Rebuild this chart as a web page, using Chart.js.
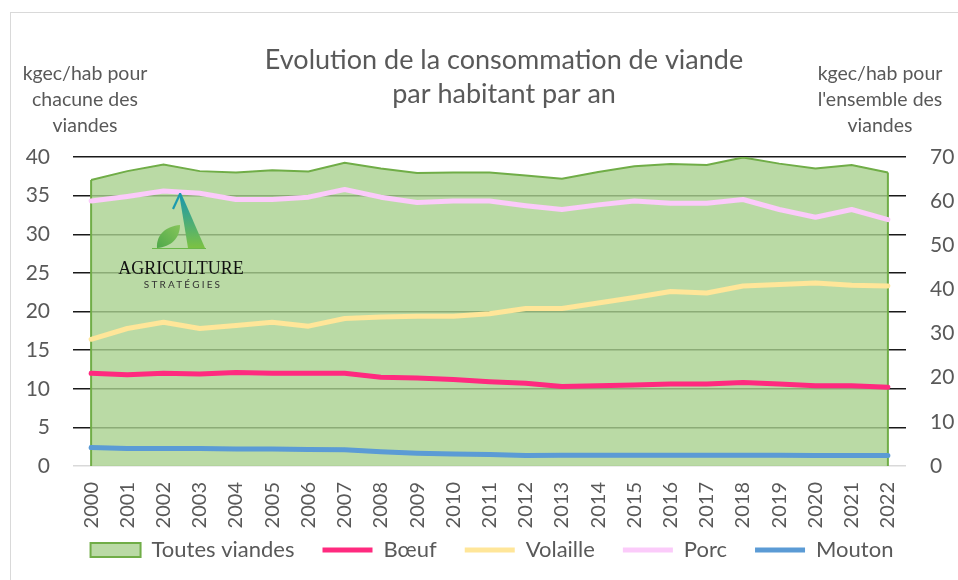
<!DOCTYPE html>
<html>
<head>
<meta charset="utf-8">
<script src="https://cdn.jsdelivr.net/npm/chart.js@4.4.1/dist/chart.umd.min.js"></script>
<style>
  html, body { margin: 0; padding: 0; background: #fff; }
  #wrap { position: relative; width: 958px; height: 580px; overflow: hidden; font-family: Lato, sans-serif; }
  #frame { position: absolute; left: 10px; top: 12px; width: 1200px; height: 1200px; border: 1px solid #d9d9d9; }
  #chart { position: absolute; left: 0; top: 0; }
  .axis-title { position: absolute; top: 60px; width: 170px; text-align: center; font-size: 19.5px; line-height: 26px; color: #595959; }
  #logo { position: absolute; left: 101px; top: 185px; width: 160px; height: 110px; }
  #logo svg { position: absolute; left: 39px; top: 0; }
  #logo .name { position: absolute; left: 0; top: 74px; width: 160px; text-align: center; font-family: "Liberation Serif", serif; font-size: 18px; line-height: 18px; color: #111; }
  #logo .sub { position: absolute; left: 2px; top: 94px; width: 160px; text-align: center; font-family: Lato, sans-serif; font-size: 10px; line-height: 10px; letter-spacing: 2.2px; color: #333; }
</style>
</head>
<body>
<div id="wrap">
  <div id="frame"></div>
  <canvas id="chart" width="958" height="580"></canvas>
  <div class="axis-title" style="left:0px">kgec/hab pour<br>chacune des<br>viandes</div>
  <div class="axis-title" style="left:795px">kgec/hab pour<br>l'ensemble des<br>viandes</div>
  <div id="logo">
    <svg width="80" height="66" viewBox="0 0 80 66">
      <defs>
        <linearGradient id="gA" x1="0" y1="0" x2="0" y2="1">
          <stop offset="0" stop-color="#1595b2"/>
          <stop offset="1" stop-color="#7cc243"/>
        </linearGradient>
        <linearGradient id="gL" x1="0" y1="1" x2="1" y2="0">
          <stop offset="0" stop-color="#4fa84a"/>
          <stop offset="1" stop-color="#86c55a"/>
        </linearGradient>
      </defs>
      <polygon points="39,8 41,8 65,63 48,63" fill="url(#gA)"/>
      <line x1="40" y1="9" x2="33" y2="24" stroke="#1a9aae" stroke-width="2.2"/>
      <line x1="12" y1="63.5" x2="66" y2="63.5" stroke="#6cb84a" stroke-width="1.2"/>
      <path d="M17,63 C16,50 26,41 40,40 C40,53 31,62 17,63 Z" fill="url(#gL)"/>
    </svg>
    <div class="name">AGRICULTURE</div>
    <div class="sub">STRATÉGIES</div>
  </div>
</div>
<script>
const years = ['2000', '2001', '2002', '2003', '2004', '2005', '2006', '2007', '2008', '2009', '2010', '2011',
  '2012', '2013', '2014', '2015', '2016', '2017', '2018', '2019', '2020', '2021', '2022'];

// right axis (all meats)
const toutesViandes = [64.8, 66.8, 68.3, 66.8, 66.5, 67.0, 66.7, 68.7, 67.4, 66.4, 66.5, 66.5,
  65.8, 65.1, 66.6, 67.9, 68.4, 68.2, 69.9, 68.5, 67.4, 68.2, 66.5];

// left axis (each meat)
const boeuf = [12.0, 11.8, 12.0, 11.9, 12.1, 12.0, 12.0, 12.0, 11.5, 11.4, 11.2, 10.9,
  10.7, 10.3, 10.4, 10.5, 10.6, 10.6, 10.8, 10.6, 10.4, 10.4, 10.2];
const volaille = [16.4, 17.8, 18.6, 17.8, 18.2, 18.6, 18.1, 19.1, 19.3, 19.4, 19.4, 19.7,
  20.4, 20.4, 21.1, 21.8, 22.6, 22.4, 23.3, 23.5, 23.7, 23.4, 23.3];
const porc = [34.3, 34.9, 35.6, 35.3, 34.5, 34.5, 34.8, 35.8, 34.8, 34.1, 34.3, 34.3,
  33.7, 33.2, 33.8, 34.3, 34.0, 34.0, 34.5, 33.2, 32.2, 33.2, 31.9];
const mouton = [2.4, 2.25, 2.25, 2.25, 2.2, 2.2, 2.15, 2.1, 1.85, 1.65, 1.55, 1.5,
  1.35, 1.4, 1.4, 1.4, 1.4, 1.4, 1.4, 1.4, 1.35, 1.35, 1.35];

const leftTicks = { min: 0, max: 40, step: 5 };
const rightTicks = { min: 0, max: 70, step: 10 };

Chart.defaults.font.family = 'Lato, sans-serif';
Chart.defaults.color = '#595959';

// excel draws the side edges of the area too
const areaEdges = {
  id: 'areaEdges',
  afterDatasetDraw(chart, args) {
    if (args.index !== 0) return;
    const pts = args.meta.data;
    const bottom = chart.scales.y1.getPixelForValue(0);
    const ctx = chart.ctx;
    ctx.save();
    ctx.strokeStyle = '#70AD47';
    ctx.lineWidth = 2;
    [pts[0], pts[pts.length - 1]].forEach(p => {
      ctx.beginPath();
      ctx.moveTo(p.x, p.y);
      ctx.lineTo(p.x, bottom);
      ctx.stroke();
    });
    ctx.restore();
  }
};

// title sits a bit right of centre in the original, legend a bit higher
const nudge = {
  id: 'nudge',
  afterLayout(chart) {
    chart.titleBlock.left = 50;
    chart.legend.left += 6;
    chart.legend.top -= 17;
    chart.legend.bottom -= 17;
  }
};

function lineSet(label, data, color) {
  return {
    label: label,
    data: data,
    yAxisID: 'y',
    borderColor: color,
    backgroundColor: color,
    borderWidth: 5,
    borderCapStyle: 'round',
    borderJoinStyle: 'round',
    pointRadius: 0,
    pointHoverRadius: 0,
    pointStyle: 'line',
    fill: false,
    tension: 0,
    order: 0
  };
}

new Chart(document.getElementById('chart'), {
  type: 'line',
  data: {
    labels: years,
    datasets: [
      {
        label: 'Toutes viandes',
        data: toutesViandes,
        yAxisID: 'y1',
        fill: 'origin',
        backgroundColor: 'rgba(169,209,142,0.8)',
        borderColor: '#70AD47',
        borderWidth: 2,
        pointRadius: 0,
        pointHoverRadius: 0,
        pointStyle: 'rect',
        tension: 0,
        order: 1
      },
      lineSet('Bœuf', boeuf, '#FF2A7F'),
      lineSet('Volaille', volaille, '#FFE699'),
      lineSet('Porc', porc, '#FBCBFA'),
      lineSet('Mouton', mouton, '#5B9BD5')
    ]
  },
  options: {
    responsive: false,
    animation: false,
    layout: { padding: { left: 20, right: 0, top: 0, bottom: -8 } },
    plugins: {
      title: {
        display: true,
        text: ['Evolution de la consommation de viande', 'par habitant par an'],
        color: '#595959',
        font: { size: 27, weight: 'normal', lineHeight: '34px' },
        padding: { top: 43, bottom: 46 }
      },
      legend: {
        position: 'bottom',
        labels: {
          usePointStyle: true,
          pointStyleWidth: 50,
          boxWidth: 50,
          boxHeight: 14,
          padding: 28,
          color: '#595959',
          font: { size: 22 },
          sort: (a, b) => a.datasetIndex - b.datasetIndex
        }
      },
      tooltip: { enabled: false }
    },
    scales: {
      x: {
        offset: true,
        grid: { display: false, drawTicks: false },
        border: { display: false },
        ticks: { autoSkip: false, minRotation: 90, maxRotation: 90, padding: 16, font: { size: 20 }, color: '#595959' },
        afterFit: s => { s.height = 62; }
      },
      y: {
        position: 'left',
        min: leftTicks.min,
        max: leftTicks.max,
        ticks: { stepSize: leftTicks.step, padding: 23, font: { size: 21 }, color: '#595959' },
        grid: {
          drawTicks: false,
          lineWidth: 1.5,
          color: c => (c.tick && c.tick.value === 0) ? '#d9d9d9' : '#1a1a1a'
        },
        border: { display: false },
        afterFit: s => { s.width = 53; }
      },
      y1: {
        position: 'right',
        min: rightTicks.min,
        max: rightTicks.max,
        ticks: { stepSize: rightTicks.step, padding: 24, font: { size: 21 }, color: '#595959' },
        grid: { display: false, drawTicks: false },
        border: { display: false },
        afterFit: s => { s.width = 52; }
      }
    }
  },
  plugins: [areaEdges, nudge]
});
</script>
</body>
</html>
